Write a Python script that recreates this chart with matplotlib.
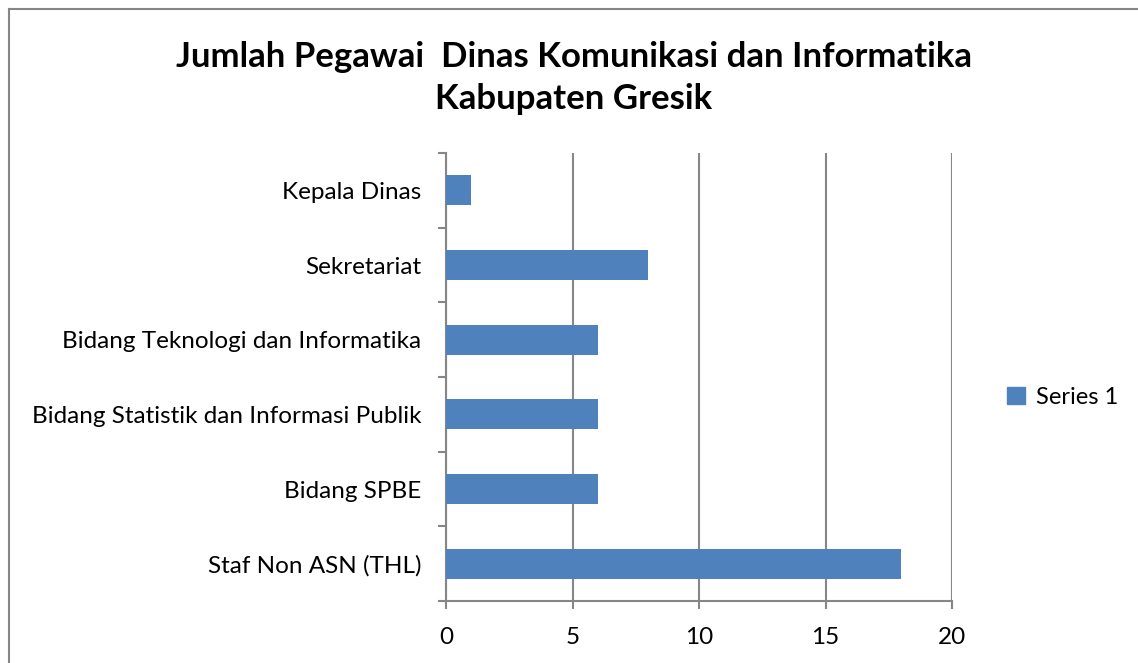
import numpy as np
import matplotlib
matplotlib.use("Agg")
import matplotlib.pyplot as plt
from matplotlib.patches import Patch
from matplotlib.lines import Line2D

categories = [
    "Kepala Dinas",
    "Sekretariat",
    "Bidang Teknologi dan Informatika",
    "Bidang Statistik dan Informasi Publik",
    "Bidang SPBE",
    "Staf Non ASN (THL)",
]
values = [1, 8, 6, 6, 6, 18]
series_name = "Series 1"
title = "Jumlah Pegawai  Dinas Komunikasi dan Informatika\nKabupaten Gresik"
xticks = [0, 5, 10, 15, 20]

plt.rcParams["font.family"] = ["Lato", "DejaVu Sans"]
BAR = "#4F81BD"
GRID = "#868686"

fig = plt.figure(figsize=(11.38, 6.63), dpi=100)
ax = fig.add_axes([446 / 1138, 1 - 601 / 663, 506 / 1138, 448 / 663])

n = len(categories)
ypos = np.arange(n)[::-1]  # first category on top
ax.barh(ypos, values, height=0.4, color=BAR, zorder=3)

ax.set_xlim(0, 20)
ax.set_ylim(-0.5, n - 0.5)
ax.set_xticks(xticks)
ax.set_xticklabels([str(t) for t in xticks], fontsize=17.5)
ax.set_yticks(ypos)
ax.set_yticklabels(categories, fontsize=17.5)
ax.set_yticks(np.arange(n + 1) - 0.5, minor=True)
ax.tick_params(axis="y", which="major", length=0, pad=18)
ax.tick_params(axis="y", which="minor", length=6, width=1.5, color=GRID, direction="out")
ax.tick_params(axis="x", length=6, width=1.5, color=GRID, pad=13)

ax.grid(axis="x", color=GRID, lw=1.5, zorder=0)
for s in ("top", "right"):
    ax.spines[s].set_visible(False)
for s in ("left", "bottom"):
    ax.spines[s].set_color(GRID)
    ax.spines[s].set_linewidth(1.5)

fig.text(574 / 1138, 1 - 78 / 663, title, ha="center", va="center",
         fontsize=25, fontweight="bold", linespacing=1.38)

fig.legend(handles=[Patch(color=BAR, label=series_name)],
           loc="center left", bbox_to_anchor=(986 / 1138, 1 - 397 / 663),
           frameon=False, fontsize=17, handlelength=0.75, handleheight=0.75,
           handletextpad=0.45)

# chart border (top and left edges visible in the reference)
fig.add_artist(Line2D([9 / 1138, 1.0], [1 - 9 / 663] * 2, color=GRID, lw=1.5,
                      transform=fig.transFigure))
fig.add_artist(Line2D([9 / 1138] * 2, [0.0, 1 - 9 / 663], color=GRID, lw=1.5,
                      transform=fig.transFigure))

fig.savefig("out.png", dpi=100)
